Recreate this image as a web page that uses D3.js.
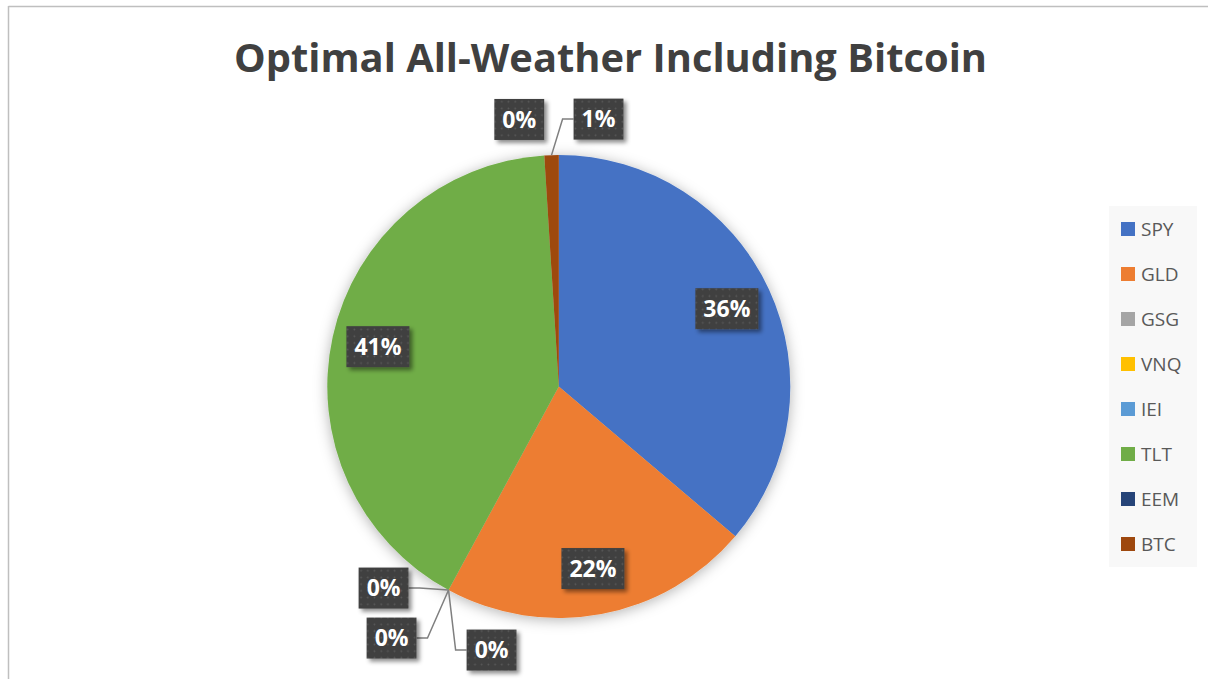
<!DOCTYPE html>
<html>
<head>
<meta charset="utf-8">
<script src="https://cdn.jsdelivr.net/npm/d3@7"></script>
<style>
  body { margin: 0; background: #fff; }
  svg { display: block; }
</style>
</head>
<body>
<div id="chart"></div>
<script>
// Pie: optimal all-weather weights with bitcoin

// data
const tickers = ["SPY", "GLD", "GSG", "VNQ", "IEI", "TLT", "EEM", "BTC"];
const weights = [36.2, 21.7, 0, 0, 0, 41.1, 0, 1.0];
const colors = ["#4472C4", "#ED7D31", "#A5A5A5", "#FFC000", "#5B9BD5", "#70AD47", "#264478", "#9E480E"];

const width = 1208;
const height = 679;
const cx = 558.8, cy = 386.5, radius = 231.5;

// callout offsets (from the slice's edge point) for the tiny slices
const calloutOffsets = { 2: [43, 60], 3: [-57, 48], 4: [-65, -2], 6: [-25, -36], 7: [47, -36] };
const withLeader = new Set([2, 3, 4, 7]);

const svg = d3.select("#chart")
  .append("svg")
  .attr("width", width)
  .attr("height", height);

const defs = svg.append("defs");

const pieShadow = defs.append("filter").attr("id", "pieShadow")
  .attr("x", "-20%").attr("y", "-20%").attr("width", "140%").attr("height", "140%");
pieShadow.append("feDropShadow")
  .attr("dx", 0).attr("dy", 2).attr("stdDeviation", 7)
  .attr("flood-color", "#000").attr("flood-opacity", 0.3);

const boxShadow = defs.append("filter").attr("id", "boxShadow")
  .attr("x", "-30%").attr("y", "-30%").attr("width", "170%").attr("height", "170%");
boxShadow.append("feDropShadow")
  .attr("dx", 3).attr("dy", 3).attr("stdDeviation", 2.2)
  .attr("flood-color", "#000").attr("flood-opacity", 0.45);

const dots = defs.append("pattern").attr("id", "dots")
  .attr("patternUnits", "userSpaceOnUse").attr("width", 6.7).attr("height", 6.7);
dots.append("rect").attr("width", 6.7).attr("height", 6.7).attr("fill", "#404040");
dots.append("circle").attr("cx", 3.3).attr("cy", 3.3).attr("r", 0.9).attr("fill", "#5a5a5a");

// frame of the chart area
svg.append("line").attr("x1", 8.5).attr("x2", width).attr("y1", 6.5).attr("y2", 6.5)
  .attr("stroke", "#bfbfbf").attr("stroke-width", 1.5);
svg.append("line").attr("x1", 8.5).attr("x2", 8.5).attr("y1", 6).attr("y2", height)
  .attr("stroke", "#bfbfbf").attr("stroke-width", 1.5);

// title
svg.append("text")
  .attr("x", 610.5).attr("y", 72)
  .attr("text-anchor", "middle")
  .attr("font-family", "Open Sans")
  .attr("font-weight", "bold")
  .attr("font-size", 40)
  .attr("fill", "#404040")
  .attr("textLength", 753)
  .attr("lengthAdjust", "spacingAndGlyphs")
  .text("Optimal All-Weather Including Bitcoin");

const pie = d3.pie().sort(null).value(d => d);
const arcs = pie(weights);
const arc = d3.arc().innerRadius(0).outerRadius(radius);

const g = svg.append("g").attr("transform", `translate(${cx},${cy})`);

g.append("g")
  .attr("filter", "url(#pieShadow)")
  .selectAll("path")
  .data(arcs)
  .enter()
  .append("path")
    .attr("d", arc)
    .attr("fill", (d, i) => colors[i]);

const pt = (a, r) => [r * Math.sin(a), -r * Math.cos(a)];
const fmt = v => Math.round(v) + "%";

// labels
const labels = g.append("g");
arcs.forEach((d, i) => {
  const mid = (d.startAngle + d.endAngle) / 2;
  let center, anchor = null;
  if (calloutOffsets[i]) {
    anchor = pt(mid, radius);
    center = [anchor[0] + calloutOffsets[i][0], anchor[1] + calloutOffsets[i][1]];
  } else {
    center = pt(mid, radius * 0.8);
  }

  const lg = labels.append("g");
  const txt = lg.append("text")
    .attr("x", center[0]).attr("y", center[1])
    .attr("dy", "0.36em")
    .attr("text-anchor", "middle")
    .attr("font-family", "Open Sans")
    .attr("font-weight", "bold")
    .attr("font-size", 23)
    .attr("fill", "#fff")
    .text(fmt(d.data));
  const tw = txt.node().getComputedTextLength();
  const bw = tw + 16, bh = 41;

  lg.insert("rect", "text")
    .attr("x", center[0] - bw / 2).attr("y", center[1] - bh / 2)
    .attr("width", bw).attr("height", bh)
    .attr("fill", "url(#dots)")
    .attr("filter", "url(#boxShadow)");

  if (anchor && withLeader.has(i)) {
    const side = anchor[0] < center[0] ? -1 : 1;
    const edgeX = center[0] + side * bw / 2;
    const elbow = [edgeX + side * 11, center[1]];
    labels.insert("path", ":first-child")
      .attr("d", d3.line()([anchor, elbow, [edgeX, center[1]]]))
      .attr("fill", "none")
      .attr("stroke", "#7f7f7f")
      .attr("stroke-width", 1.5);
  }
});

// legend
const legend = svg.append("g");
legend.append("rect")
  .attr("x", 1109).attr("y", 206)
  .attr("width", 88).attr("height", 361)
  .attr("fill", "#f8f8f8");

const ly = d3.scalePoint().domain(tickers).range([229, 544]);

const items = legend.selectAll("g.item")
  .data(tickers)
  .enter()
  .append("g")
    .attr("class", "item")
    .attr("transform", d => `translate(1121,${ly(d)})`);

items.append("rect")
  .attr("x", 0).attr("y", -7)
  .attr("width", 14).attr("height", 14)
  .attr("fill", (d, i) => colors[i]);

items.append("text")
  .attr("x", 20).attr("y", 0)
  .attr("dy", "0.36em")
  .attr("font-family", "Open Sans")
  .attr("font-size", 19)
  .attr("fill", "#595959")
  .text(d => d);
</script>
</body>
</html>
